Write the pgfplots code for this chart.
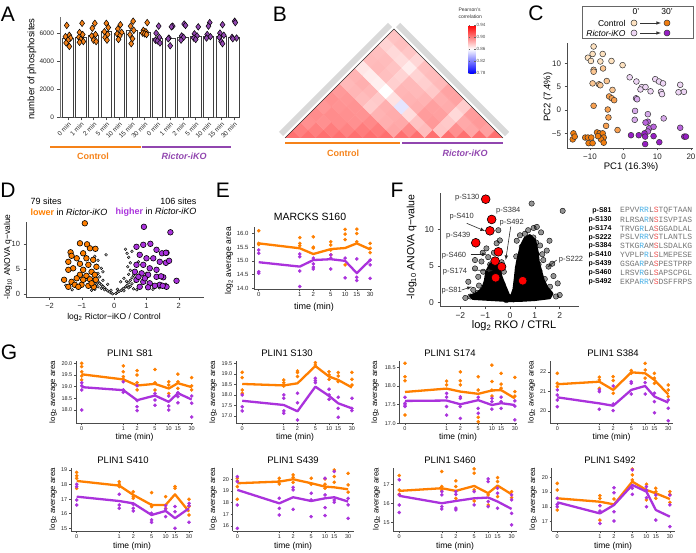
\documentclass[border=0pt]{standalone}
\usepackage{pgfplots}
\pgfplotsset{compat=1.18}
\usepackage{fontspec}
\setmainfont{Liberation Sans}
\newfontfamily\seqfont{Liberation Mono}
\definecolor{ora}{RGB}{255,127,0}
\definecolor{pur}{RGB}{170,50,220}
\definecolor{oraA}{RGB}{245,130,25}
\definecolor{purA}{RGB}{145,70,175}
\definecolor{c0}{RGB}{254,226,192}
\definecolor{c1}{RGB}{252,198,145}
\definecolor{c2}{RGB}{248,160,80}
\definecolor{c3}{RGB}{240,125,15}
\definecolor{r0}{RGB}{238,214,245}
\definecolor{r1}{RGB}{215,170,235}
\definecolor{r2}{RGB}{185,100,220}
\definecolor{r3}{RGB}{150,30,195}
\definecolor{seqb}{RGB}{70,175,230}
\definecolor{seqr}{RGB}{240,80,80}
\newcommand{\fs}[1]{\fontsize{#1}{#1}\selectfont}
\pgfplotsset{
 gg/.style={scale only axis, anchor=south west, axis x line*=bottom, axis y line*=left,
   axis line style={black!70, line width=0.7pt, -}, tick style={black!70, line width=0.6pt},
   tick align=outside, major tick length=2.5pt,
   /pgf/number format/assume math mode=true, /pgf/number format/1000 sep={},
   scaled ticks=false, tick label style={font=\fs{6.5}, text=black!85}, clip=false},
 gs/.style={gg, xtick={0,1,1.33,1.76,2.09,2.31,2.64}, xticklabels={0,1,2,5,10,15,30},
   tick label style={font=\fs{5.5}}, axis line style={line width=0.8pt}, major tick length=2pt,
   xticklabel style={inner sep=0.6pt, yshift=-1pt}, yticklabel style={inner sep=1.5pt}},
 dO/.style={only marks, mark=*, mark size=1.6pt, ora},
 dP/.style={only marks, mark=*, mark size=1.6pt, pur},
 lO/.style={ora, line width=2.3pt, line join=round, no marks},
 lP/.style={pur, line width=2.3pt, line join=round, no marks},
}
\begin{document}
\begin{tikzpicture}
\path[use as bounding box] (0,0) rectangle (696pt,-553pt);
% panel letters
\foreach \l/\x/\y in {A/8/14,B/280/14,C/536/13,D/8/190,E/223/190,F/397/190,G/9/352}
  \node[font=\fs{21}, inner sep=0] at (\x pt,-\y pt) {\l};

% ================= A
\begin{axis}[gg, at={(60pt,-118pt)}, width=180pt, height=101pt,
  xmin=-0.63, xmax=13.47, ymin=-50, ymax=7150,
  ytick={0,2000,4000,6000}, xtick={0,...,13},
  xticklabels={0 min,1 min,2 min,5 min,10 min,15 min,30 min,0 min,1 min,2 min,5 min,10 min,15 min,30 min},
  xticklabel style={rotate=45, anchor=north east, font=\fs{6.5}, inner sep=0.5pt},
  axis line style={black!55, line width=1pt}]
\addplot[ybar, bar width=10.5pt, fill=white, draw=black!75, line width=0.7pt]
 coordinates {(0,5600)(1,5700)(2,5850)(3,6100)(4,6000)(5,6200)(6,6050)
 (7,5650)(8,5600)(9,5700)(10,5750)(11,5750)(12,5750)(13,5700)};
\addplot[only marks, mark=diamond*, mark size=3.3pt, mark options={fill=oraA, draw=black, line width=0.5pt}]
 coordinates {(-0.1,6550)(0.1,5850)(-0.2,5750)(0.2,5650)(0,5500)(-0.15,5300)(0.1,5050)
 (1.1,6700)(0.9,6050)(1.15,5900)(0.85,5700)(1.0,5550)(1.2,5400)(0.9,5350)
 (2.1,6700)(1.9,6350)(2.15,5900)(1.85,5800)(2.0,5500)(2.2,5400)
 (3.0,6700)(3.15,6400)(2.85,6100)(3.1,5900)(2.9,5700)(3.05,5500)
 (4.1,6600)(3.9,6300)(4.2,6050)(3.85,5950)(4.05,5800)(3.95,5550)
 (5.1,6850)(4.9,6500)(5.15,6200)(4.85,5900)(5.05,5600)(4.95,5250)
 (6.2,6750)(5.9,6200)(6.1,6100)(5.85,6000)(6.0,5950)(6.15,5900)};
\addplot[only marks, mark=diamond*, mark size=3.3pt, mark options={fill=purA, draw=black, line width=0.5pt}]
 coordinates {(7.1,6500)(6.9,6000)(7.15,5700)(6.85,5500)(7.0,5450)(7.2,5300)
 (8.2,6500)(8.1,6450)(7.9,5650)(8.0,5100)(7.85,5600)
 (9.1,6650)(9.2,6550)(8.9,5800)(9.05,5700)(8.85,5500)
 (10.2,6450)(9.9,5950)(10.1,5800)(9.85,5650)(10.0,5550)
 (11.1,6750)(11.0,6500)(10.9,5900)(11.15,5750)(10.85,5650)
 (12.1,6600)(11.9,6000)(12.2,5850)(11.85,5700)(12.0,5400)(12.1,5250)
 (13.05,6850)(13.1,6750)(12.85,5700)(13.2,5650)(12.9,5600)};
\end{axis}
\node[rotate=90, font=\fs{9.5}] at (32pt,-69pt) {number of phosphosites};
\draw[oraA, line width=2.5pt] (50pt,-147pt) -- (140.5pt,-147pt);
\draw[purA, line width=2.5pt] (141.5pt,-147pt) -- (231pt,-147pt);
\node[font=\fs{9}\bfseries, text=oraA] at (93pt,-156pt) {Control};
\node[font=\fs{9}\bfseries\itshape, text=purA] at (184pt,-156pt) {Rictor-iKO};

% ================= B heatmap
\draw[black!15, line width=6pt] (281pt,-134pt) -- (390pt,-25pt);
\draw[black!15, line width=6pt] (398pt,-25pt) -- (507pt,-134pt);
\begin{axis}[at={(285pt,-138pt)}, anchor=south west, scale only axis, width=218pt, height=109pt,
  xmin=0, xmax=14, ymin=0, ymax=7, hide axis, clip marker paths=true,
  colormap={bwr}{rgb255=(0,0,255) rgb255=(255,255,255) rgb255=(255,0,0)},
  point meta min=0.78, point meta max=0.94,
  colorbar, colorbar style={at={(parent axis.north west)}, anchor=north west, xshift=175pt, yshift=4pt,
    scale only axis, width=7pt, height=48pt, ytick={0.78,0.82,0.86,0.90,0.94},
    yticklabels={0.78,0.82,0.86,0.90,0.94}, yticklabel style={font=\fs{4.5}, text=black!70, inner sep=1pt},
    axis line style={draw=none}, major tick length=1.5pt, tick style={black!60},
    /pgf/number format/assume math mode=true}]
\addplot[scatter, only marks, mark=square*, mark size=5.45pt, point meta=explicit,
  scatter/use mapped color={draw=mapped color, fill=mapped color}, mark options={rotate=45}]
 table[meta=c] {
x y c
0.5 0 .905
1 .5 .9
1.5 1 .895
2 1.5 .896
2.5 2 .893
3 2.5 .895
3.5 3 .892
4 3.5 .882
4.5 4 .884
5 4.5 .868
5.5 5 .881
6 5.5 .88
6.5 6 .874
7 6.5 .879
1.5 0 .905
2 .5 .9
2.5 1 .895
3 1.5 .896
3.5 2 .894
4 2.5 .893
4.5 3 .883
5 3.5 .885
5.5 4 .866
6 4.5 .882
6.5 5 .881
7 5.5 .872
7.5 6 .88
2.5 0 .905
3 .5 .901
3.5 1 .896
4 1.5 .895
4.5 2 .894
5 2.5 .881
5.5 3 .883
6 3.5 .865
6.5 4 .88
7 4.5 .879
7.5 5 .871
8 5.5 .878
3.5 0 .905
4 .5 .899
4.5 1 .895
5 1.5 .894
5.5 2 .876
6 2.5 .877
6.5 3 .86
7 3.5 .875
7.5 4 .874
8 4.5 .866
8.5 5 .873
4.5 0 .905
5 .5 .901
5.5 1 .897
6 1.5 .884
6.5 2 .885
7 2.5 .869
7.5 3 .883
8 3.5 .882
8.5 4 .874
9 4.5 .88
5.5 0 .905
6 .5 .901
6.5 1 .885
7 1.5 .886
7.5 2 .852
8 2.5 .884
8.5 3 .882
9 3.5 .875
9.5 4 .881
6.5 0 .905
7 .5 .888
7.5 1 .887
8 1.5 .871
8.5 2 .885
9 2.5 .884
9.5 3 .877
10 3.5 .882
7.5 0 .905
8 .5 .897
8.5 1 .879
9 1.5 .891
9.5 2 .89
10 2.5 .885
10.5 3 .889
8.5 0 .905
9 .5 .881
9.5 1 .892
10 1.5 .89
10.5 2 .886
11 2.5 .889
9.5 0 .905
10 .5 .878
10.5 1 .877
11 1.5 .872
11.5 2 .876
10.5 0 .905
11 .5 .895
11.5 1 .887
12 1.5 .891
11.5 0 .905
12 .5 .888
12.5 1 .892
12.5 0 .905
13 .5 .89
13.5 0 .905
};
\end{axis}
\draw[black!80, line width=0.6pt] (285pt,-138pt) -- (394pt,-29pt) -- (503pt,-138pt);
\node[font=\fs{5}, anchor=west, text=black!80] at (455pt,-10pt) {Pearson's};
\node[font=\fs{5}, anchor=west, text=black!80] at (455pt,-17pt) {correlation};
\draw[oraA, line width=2.5pt] (285pt,-143pt) -- (400pt,-143pt);
\draw[purA, line width=2.5pt] (402pt,-143pt) -- (503pt,-143pt);
\node[font=\fs{9}\bfseries, text=oraA] at (343pt,-153pt) {Control};
\node[font=\fs{9}\bfseries\itshape, text=purA] at (465pt,-153pt) {Rictor-iKO};

% ================= C PCA
\begin{axis}[gg, at={(567pt,-148pt)}, width=126pt, height=105pt,
  xmin=-16.8, xmax=20.6, ymin=-8.14, ymax=14.35,
  xtick={-10,0,10,20}, xticklabels={−10,0,10,20}, ytick={-5,0,5,10}, yticklabels={−5,0,5,10},
  tick label style={font=\fs{8}}]
\addplot[only marks, mark=*, mark size=2.9pt, mark options={fill=c0, draw=black!80, line width=0.5pt}]
 coordinates {(-8.9,13.6)(-10.6,11.2)(-9.2,12)(-6.2,12)(-6.9,10.4)(-3.6,10.5)(-0.3,9.6)(-9.7,10.5)};
\addplot[only marks, mark=*, mark size=2.9pt, mark options={fill=c1, draw=black!80, line width=0.5pt}]
 coordinates {(-6.1,8.9)(-8.9,8.6)(-8.9,8.2)(-9.2,5.7)(-7.3,5.5)(-5,6.2)(-6.9,5.3)(-3.3,4.3)};
\addplot[only marks, mark=*, mark size=2.9pt, mark options={fill=c2, draw=black!80, line width=0.5pt}]
 coordinates {(-4.3,2.9)(-3.5,2.5)(-2.8,2.1)(-8.9,0.9)(-4.7,0.1)(-4.5,-1.6)(-5.2,-3.4)(-1.8,-4.3)};
\addplot[only marks, mark=*, mark size=2.9pt, mark options={fill=c3, draw=black!80, line width=0.5pt}]
 coordinates {(-14.9,-5)(-15.1,-6.3)(-14.5,-5.7)(-11.4,-5.9)(-10.6,-5.9)(-9.6,-5.9)(-10.4,-7.1)(-9.2,-7.1)
 (-7.9,-4.8)(-7.1,-5)(-6.2,-5)(-5.9,-5.9)(-6.7,-6.3)(-5.9,-7)(-7.6,-5.6)};
\addplot[only marks, mark=*, mark size=2.9pt, mark options={fill=r0, draw=black!80, line width=0.5pt}]
 coordinates {(1.8,7)(3.8,6.1)(5.4,4.9)(5.0,4.4)(6.5,4.9)(8.0,4)(9.4,6.6)(10.5,6.1)(11.7,5.7)(11.1,3.9)
 (11.4,3.4)(16.8,5.4)(16.3,3.8)(17.9,3.9)};
\addplot[only marks, mark=*, mark size=2.9pt, mark options={fill=r1, draw=black!80, line width=0.5pt}]
 coordinates {(3.7,2.5)(4,2.3)(3.4,-0.2)(7.2,-0.9)(3.3,-2.1)(11.9,-1.8)};
\addplot[only marks, mark=*, mark size=2.9pt, mark options={fill=r2, draw=black!80, line width=0.5pt}]
 coordinates {(7.2,-2.5)(6.5,-2.7)(7.6,-3.9)(8.9,-3.6)(16.8,-3.8)(7.2,-4.6)};
\addplot[only marks, mark=*, mark size=2.9pt, mark options={fill=r3, draw=black!80, line width=0.5pt}]
 coordinates {(2.2,-5.4)(4.5,-5.4)(6.2,-5)(6.4,-5.7)(8.9,-5.6)(6.4,-7.3)(10.6,-6.9)(18,-5.7)(18.5,-5.7)};
\end{axis}
\node[font=\fs{9.5}] at (631pt,-167pt) {PC1 (16.3\%)};
\node[font=\fs{9.5}, rotate=90] at (548pt,-97pt) {PC2 (7.4\%)};
% legend of C
\begin{axis}[at={(582pt,-38pt)}, anchor=south west, scale only axis, width=111pt, height=32pt,
  xmin=0, xmax=111, ymin=0, ymax=32, hide axis, clip=false]
\draw[black!60, line width=0.6pt] (axis cs:0,0) rectangle (axis cs:111,32);
\addplot[only marks, mark=*, mark size=3pt, mark options={fill=c0, draw=black!80, line width=0.5pt}] coordinates {(52,15)};
\addplot[only marks, mark=*, mark size=3pt, mark options={fill=c3, draw=black!80, line width=0.5pt}] coordinates {(85,15)};
\addplot[only marks, mark=*, mark size=3pt, mark options={fill=r0, draw=black!80, line width=0.5pt}] coordinates {(52,5)};
\addplot[only marks, mark=*, mark size=3pt, mark options={fill=r3, draw=black!80, line width=0.5pt}] coordinates {(85,5)};
\draw[-latex, black!80, line width=0.6pt] (axis cs:58,15) -- (axis cs:79,15);
\draw[-latex, black!80, line width=0.6pt] (axis cs:58,5) -- (axis cs:79,5);
\node[font=\fs{8.5}] at (axis cs:54,26) {0'};
\node[font=\fs{8.5}] at (axis cs:85,26) {30'};
\node[font=\fs{8.5}, anchor=east] at (axis cs:47,15) {Control};
\node[font=\fs{8.5}\itshape, anchor=east] at (axis cs:47,5) {Rictor-iKO};
\end{axis}

% ================= D volcano
\begin{axis}[gg, at={(26pt,-297pt)}, width=178pt, height=75pt,
  xmin=-2.73, xmax=2.78, ymin=-0.54, ymax=14.46, xtick={-2,-1,0,1,2}, xticklabels={−2,−1,0,1,2},
  ytick={0,5,10}, tick label style={font=\fs{7.5}}]
\addplot[only marks, mark=*, mark size=1.4pt, mark options={fill=black!25, draw=none}]
 coordinates {(-0.05,0.1)(0.05,0.15)(-0.1,0.3)(0.1,0.4)(-0.15,0.5)(0.15,0.6)(-0.2,0.7)(0.22,0.8)(-0.25,1.0)
 (0.27,1.1)(-0.3,1.3)(0.3,1.2)(-0.35,1.6)(0.36,1.5)(-0.4,1.9)(0.4,1.8)(-0.45,2.2)(0.45,2.3)(-0.5,2.6)
 (0.5,2.8)(-0.55,3.1)(0.55,3.3)(-0.3,0.9)(0.3,0.7)(-0.4,1.2)(0.45,1.3)(-0.5,1.5)(0.5,1.6)(-0.55,2.0)
 (0.55,2.1)(-0.45,3.5)(0.45,4.0)(-0.5,4.2)(0.5,4.8)(-0.4,5.2)(0.42,5.5)(-0.55,5.8)(0.5,6.3)(-0.5,6.8)
 (0.45,7.4)(0.4,8.2)(-0.6,7.6)(0.35,9.0)(-0.25,7.9)(0.55,8.6)(-0.35,4.5)(0.3,3.2)(-0.2,2.0)(0.2,2.5)
 (-0.6,1.0)(0.6,1.1)(-0.7,0.8)(0.7,0.9)(-0.8,1.6)(0.8,1.4)(-0.9,2.8)(0.9,3.0)(-1.1,1.2)(1.2,1.0)
 (-1.3,0.9)(1.4,1.3)(-1.0,3.8)(1.0,4.2)(-0.75,6.0)(0.75,6.5)(-1.5,1.8)(1.6,2.0)(-0.65,2.4)(0.65,2.6)
 (-0.1,0.8)(0.1,1.0)(-0.6,3.0)(0.6,3.8)(-0.35,2.8)(0.38,2.6)};
\addplot[only marks, mark=*, mark size=2.8pt, mark options={fill=ora, draw=black, line width=0.6pt}]
 coordinates {(-0.91,14.2)(-1.06,10.2)(-0.84,10)(-0.75,9.2)(-0.58,9.1)(-0.96,8.2)(-1.35,8.4)(-1.32,7.7)
 (-1.16,7.2)(-0.86,7.2)(-0.65,6.9)(-1.42,6.5)(-1.06,6.1)(-0.8,5.9)(-0.55,5.5)(-1.27,5.2)(-0.96,4.9)
 (-0.7,4.5)(-1.42,4.9)(-1.06,3.9)(-0.86,3.7)(-0.6,3.9)(-1.55,2.9)(-1.32,2.5)(-1.16,3.2)(-0.96,2.9)
 (-0.75,3)(-0.57,2.9)(-1.42,1.5)(-1.22,1.9)(-1.01,1.9)(-0.8,1.7)(-0.63,1.5)(-1.11,1.5)(-0.7,2.2)};
\addplot[only marks, mark=*, mark size=2.8pt, mark options={fill=pur, draw=black, line width=0.6pt}]
 coordinates {(0.92,13.5)(0.69,9.5)(0.9,9.9)(1.12,10.1)(1.31,8.9)(1.48,8.2)(1.62,8.3)(0.79,7.9)(1,7.2)
 (1.21,7.2)(1.41,6.5)(0.69,5.9)(0.9,5.9)(1.1,5.2)(1.31,4.9)(0.64,4.5)(0.85,4.2)(1.05,3.9)(1.31,3.5)
 (1.52,3.4)(0.69,2.9)(0.9,2.5)(1.1,2.2)(1.41,1.9)(1.62,1.5)(0.79,1.5)(1.05,1.4)(1.26,1.7)(1.74,12.4)
 (1.6,8.3)(1.6,6.3)(1.7,6.7)(1.45,3.6)(1.5,1.7)(1.93,2.7)(0.75,3.5)(0.95,3.2)};
\end{axis}
\node[font=\fs{9}, anchor=west] at (27pt,-201pt) {79 sites};
\node[font=\fs{9}, anchor=west] at (27pt,-212pt) {\textcolor{ora}{\bfseries lower} in \textit{Rictor-iKO}};
\node[font=\fs{9}, anchor=east] at (200pt,-201pt) {106 sites};
\node[font=\fs{9}, anchor=east] at (200pt,-212pt) {\textcolor{pur}{\bfseries higher} in \textit{Rictor-iKO}};
\node[font=\fs{8.5}, rotate=90] at (8pt,-257pt) {-log\textsubscript{10} ANOVA q−value};
\node[font=\fs{8.5}] at (114pt,-317pt) {log\textsubscript{2} Rictor−iKO / Control};

% ================= E
\begin{axis}[gg, at={(254pt,-289pt)}, width=118pt, height=62.3pt,
  xmin=-0.115, xmax=2.76, ymin=13.97, ymax=16.25,
  xtick={0,1,1.33,1.756,2.105,2.39,2.715}, xticklabels={0,1,2,5,10,15,30},
  ytick={14,14.5,15,15.5,16}, yticklabels={14.0,14.5,15.0,15.5,16.0},
  tick label style={font=\fs{6}}, xticklabel style={inner sep=0.6pt, yshift=-1pt},
  axis line style={line width=0.8pt}, major tick length=2pt]
\addplot[dO] coordinates {(0,16.1)(0,15.64)(0,15.6)(1,15.85)(1,15.64)(1,15.55)(1.33,15.88)(1.33,15.5)(1.33,15.47)
 (1.756,15.7)(1.756,15.58)(1.756,15.4)(1.756,15.22)(2.105,16.15)(2.105,15.98)(2.105,15.78)(2.105,14.85)
 (2.39,16.16)(2.39,16.0)(2.39,15.7)(2.715,15.64)(2.715,15.46)(2.715,15.3)};
\addplot[dP] coordinates {(0,15.4)(0,15.28)(0,14.6)(0,14.55)(1,15.25)(1,15.15)(1,14.63)(1,14.06)(1.33,15.1)
 (1.33,14.89)(1.33,14.77)(1.33,14.7)(1.756,15.22)(1.756,15.1)(1.756,14.7)(2.105,15.1)(2.105,14.38)
 (2.39,15.07)(2.39,14.4)(2.39,14.28)(2.715,15.03)(2.715,14.85)(2.715,14.36)};
\addplot[lO] coordinates {(0,15.64)(1,15.46)(1.33,15.25)(1.756,15.43)(2.105,15.47)(2.39,15.64)(2.715,15.42)};
\addplot[lP] coordinates {(0,14.95)(1,14.79)(1.33,15.03)(1.756,15.06)(2.105,15.0)(2.39,14.55)(2.715,15.03)};
\end{axis}
\node[font=\fs{10.5}] at (310pt,-217pt) {MARCKS S160};
\node[font=\fs{8.5}, rotate=90] at (229pt,-261pt) {log\textsubscript{2} average area};
\node[font=\fs{9}] at (314pt,-307pt) {time (min)};

% ================= F
\begin{axis}[gg, at={(440pt,-306.7pt)}, width=139.3pt, height=113.7pt,
  xmin=-2.82, xmax=2.79, ymin=-0.6, ymax=15.0, xtick={-2,-1,0,1,2}, xticklabels={−2,−1,0,1,2},
  ytick={0,5,10}, tick label style={font=\fs{8.5}}, axis line style={line width=0.9pt}]
\addplot[fill=black, draw=black, line width=2.5pt, line join=round]
 coordinates {(0,0.2)(-0.5,0.3)(-1.0,0.4)(-1.5,0.5)(-1.6,0.9)(-1.3,1.3)(-1.1,2.0)(-1.0,3.0)(-0.95,4.2)
 (-0.8,5.2)(-0.6,5.6)(-0.45,4.8)(-0.35,3.5)(-0.2,2.2)(-0.05,1.0)(0.05,0.8)(0.15,1.8)(0.2,3.2)(0.25,4.8)
 (0.35,6.5)(0.45,7.8)(0.6,8.8)(0.8,9.2)(1.0,8.5)(1.1,7.0)(1.15,5.5)(1.25,4.2)(1.35,3.0)(1.5,2.0)
 (1.7,1.2)(1.6,0.6)(1.0,0.35)(0.5,0.25)} -- cycle;
\addplot[only marks, mark=*, mark size=2.7pt, mark options={fill=black, draw=none, fill opacity=0.42}]
 coordinates {(0.87,13.55)(2.12,12.55)(1.08,10.35)(1.59,8.45)(1.92,2.6)(-1.68,2.82)(-1.41,5.8)(-1.41,4.65)
 (-1.48,1.7)(-1.28,3.5)(-1.08,4.2)(-0.88,6.2)(-0.41,8.5)(0.47,7.6)(0.6,9.4)(0.73,9.9)(0.27,8.45)(1.21,7.8)
 (1.48,7.1)(1.34,5.8)(1.55,4.9)(1.75,3.6)(1.19,4.3)(1.61,2.14)(0.94,8.9)(1.08,6.6)(-0.67,4.1)(-0.54,8.1)
 (-0.34,5.5)(-0.47,9.9)(-1.2,1.2)(-1.0,2.0)(-0.9,3.0)(-0.75,2.5)(-0.6,1.5)(-0.5,3.5)(-0.8,5.2)(-1.1,6.8)
 (-0.3,2.5)(-0.2,1.2)(0.2,1.5)(0.3,3.5)(0.35,5.5)(0.45,6.5)(0.55,4.5)(0.7,3)(0.8,5.5)(0.9,7.2)(1.0,3.8)
 (1.1,2.5)(1.3,1.8)(1.4,3.2)(0.65,8.2)(0.4,9.2)(1.25,9.6)(0.5,2)(0.9,1.5)(-0.4,0.6)(0.4,0.7)(-0.15,0.3)
 (0.15,0.4)(1.5,1.2)(-1.6,0.8)(2.0,1.0)(-0.65,6.8)(-1.25,2.3)(1.7,5.3)(1.05,8.2)(0.25,6.3)(-0.25,4.2)
 (-0.95,1.0)(-0.7,3.5)(0.75,1.2)(1.15,5.2)(0.6,6.8)(-1.3,1.3)(1.2,2.0)(-1.8,0.6)(1.85,0.8)(-1.15,5.6)
 (1.3,6.6)(0.95,10.2)(-0.95,7.4)};
\addplot[only marks, mark=*, mark size=4.4pt, mark options={fill=red, draw=black, line width=0.6pt}]
 coordinates {(-0.98,14.15)(-0.74,11.37)(-0.81,9.81)(-1.38,8.17)(-0.47,6.93)(-0.6,5.66)(-0.34,4.88)(-0.58,3.37)(0.51,2.96)};
\end{axis}
\node[font=\fs{10.5}, rotate=90] at (411.7pt,-247pt) {-log\textsubscript{10} ANOVA q−value};
\node[font=\fs{11}] at (514pt,-326pt) {log\textsubscript{2} RKO / CTRL};
\begin{scope}[font=\fs{7.5}, text=black!80]
\node at (467.3pt,-197.3pt) {p-S130};
\node at (508.3pt,-211pt) {p-S384};
\node at (461.7pt,-216.7pt) {p-S410};
\node at (511.7pt,-222.7pt) {p-S492};
\node at (458.3pt,-235.7pt) {p-S439};
\node at (454pt,-255.7pt) {p-S460};
\node at (455pt,-271.7pt) {p-S174};
\node at (451.7pt,-291pt) {p-S81};
\node at (571pt,-259.3pt) {p-S222};
\end{scope}
\begin{scope}[-latex, black!85, line width=0.6pt]
\draw (466.7pt,-223.3pt) -- (485pt,-231pt);
\draw (510.7pt,-226.7pt) -- (505.7pt,-260pt);
\draw (470.7pt,-254.3pt) -- (486.7pt,-254.3pt);
\draw (472.7pt,-270pt) -- (492.7pt,-270.7pt);
\draw (461.7pt,-290pt) -- (471.7pt,-286.7pt);
\draw (556.7pt,-260pt) -- (547.3pt,-267.3pt);
\end{scope}
\begin{scope}[text=black!55]
\foreach \lab/\seq/\k in {p-S81/{EPVV\textcolor{seqb}{RR}L\textcolor{seqr}{S}TQFTAAN}/0,
  p-S130/{RLRSA\textcolor{seqb}{R}N\textcolor{seqr}{S}ISVPIAS}/1,
  p-S174/{TRVG\textcolor{seqb}{R}LA\textcolor{seqr}{S}GGADLAL}/2,
  p-S222/{PSLV\textcolor{seqb}{RR}V\textcolor{seqr}{S}TLANTLS}/3,
  p-S384/{STKG\textcolor{seqb}{R}AM\textcolor{seqr}{S}LSDALKG}/4,
  p-S410/{YVPLP\textcolor{seqb}{R}L\textcolor{seqr}{S}LMEPESE}/5,
  p-S439/{GSGA\textcolor{seqb}{R}PA\textcolor{seqr}{S}PESTPRP}/6,
  p-S460/{LRSV\textcolor{seqb}{R}GL\textcolor{seqr}{S}APSCPGL}/7,
  p-S492/{EKPA\textcolor{seqb}{RR}V\textcolor{seqr}{S}DSFFRPS}/8}{
  \node[anchor=east, font=\fs{7}\bfseries, text=black] at (615pt,{-210.7pt-\k*8.87pt}) {\lab};
  \node[anchor=west, font=\seqfont\fs{8}, inner sep=1pt] at (619pt,{-210.7pt-\k*8.87pt}) {\seq};
}
\end{scope}

% ================= G row 1
\begin{axis}[gs, at={(76pt,-423.3pt)}, width=117.3pt, height=62.3pt, xmin=-0.137, xmax=2.68,
  ymin=17.43, ymax=20.1, ytick={18,18.5,19,19.5,20}, yticklabels={18.0,18.5,19.0,19.5,20.0}]
\addplot[dO] coordinates {(0,20.0)(0,19.86)(0,19.64)(0,19.46)(0,19.29)(1,19.89)(1,19.64)(1,19.43)(1,19.31)
 (1.33,19.69)(1.33,19.5)(1.33,19.17)(1.33,18.86)(1.76,19.74)(1.76,19.17)(1.76,18.86)(2.09,19.21)(2.09,19.07)
 (2.09,18.71)(2.31,19.54)(2.31,19.21)(2.31,18.93)(2.64,19.39)(2.64,19.03)(2.64,18.86)};
\addplot[dP] coordinates {(0,19.17)(0,19.04)(0,18.86)(0,18.0)(1,19.21)(1,18.86)(1,18.76)(1.33,19.04)(1.33,18.4)
 (1.33,18.14)(1.33,17.97)(1.76,18.71)(1.76,18.43)(1.76,18.2)(2.09,18.6)(2.09,18.17)(2.09,18.0)(2.31,18.74)
 (2.31,18.57)(2.31,18.31)(2.64,18.6)(2.64,18.29)(2.64,17.7)};
\addplot[lO] coordinates {(0,19.53)(1,19.31)(1.33,19.05)(1.76,19.12)(2.09,18.92)(2.31,19.15)(2.64,18.98)};
\addplot[lP] coordinates {(0,18.98)(1,18.85)(1.33,18.42)(1.76,18.62)(2.09,18.35)(2.31,18.72)(2.64,18.45)};
\end{axis}
\begin{axis}[gs, at={(236pt,-423.3pt)}, width=118pt, height=62.3pt, xmin=-0.15, xmax=2.69,
  ymin=16.65, ymax=19.61, ytick={17,17.5,18,18.5,19,19.5}, yticklabels={17.0,17.5,18.0,18.5,19.0,19.5}]
\addplot[dO] coordinates {(0,19.07)(0,18.82)(0,18.23)(0,18.08)(1,18.71)(1,18.58)(1,18.42)(1.33,19.14)(1.33,19.06)
 (1.33,18.87)(1.76,19.53)(1.76,19.42)(2.09,19.1)(2.09,18.95)(2.09,18.74)(2.31,19.06)(2.31,18.9)(2.31,18.63)
 (2.64,19.07)(2.64,18.74)(2.64,18.47)};
\addplot[dP] coordinates {(0,18.0)(0,17.44)(0,17.24)(1,18.0)(1,17.84)(1,17.24)(1,17.13)(1.33,18.08)(1.33,17.63)
 (1.33,16.81)(1.76,18.79)(1.76,18.68)(1.76,18.58)(2.09,18.27)(2.09,18.0)(2.09,17.79)(2.31,17.89)(2.31,17.36)
 (2.31,16.94)(2.64,17.84)(2.64,17.36)(2.64,17.25)};
\addplot[lO] coordinates {(0,18.52)(1,18.45)(1.33,18.55)(1.76,19.37)(2.09,18.87)(2.31,18.71)(2.64,18.35)};
\addplot[lP] coordinates {(0,17.72)(1,17.52)(1.33,17.22)(1.76,18.39)(2.09,17.95)(2.31,17.6)(2.64,17.36)};
\end{axis}
\begin{axis}[gs, at={(399.3pt,-423.3pt)}, width=117.4pt, height=62.3pt, xmin=-0.137, xmax=2.685,
  ymin=17.0, ymax=18.67, ytick={17,17.5,18,18.5}, yticklabels={17.0,17.5,18.0,18.5}]
\addplot[dO] coordinates {(0,18.61)(0,18.25)(0,18.14)(0,17.22)(1,18.13)(1,18.03)(1.33,18.38)(1.33,18.14)(1.33,18.03)
 (1.76,18.25)(1.76,17.89)(1.76,17.16)(1.76,17.04)(2.09,18.56)(2.09,18.12)(2.09,17.89)(2.09,17.73)(2.31,18.34)
 (2.31,18.05)(2.31,17.94)(2.64,18.23)(2.64,17.85)(2.64,17.73)};
\addplot[dP] coordinates {(0,17.7)(0,17.54)(0,17.49)(0,17.45)(1,17.8)(1,17.7)(1,17.45)(1,17.22)(1.33,17.71)(1.33,17.67)
 (1.33,17.45)(1.33,17.13)(1.76,17.7)(1.76,17.4)(1.76,17.27)(2.09,17.67)(2.09,17.58)(2.09,17.38)(2.31,17.7)
 (2.31,17.58)(2.31,17.4)(2.64,17.6)(2.64,17.46)(2.64,17.09)};
\addplot[lO] coordinates {(0,17.84)(1,17.93)(1.33,17.85)(1.76,17.79)(2.09,17.88)(2.31,17.89)(2.64,17.67)};
\addplot[lP] coordinates {(0,17.6)(1,17.61)(1.33,17.51)(1.76,17.62)(2.09,17.49)(2.31,17.54)(2.64,17.49)};
\end{axis}
\begin{axis}[gs, at={(550pt,-423.3pt)}, width=123.3pt, height=62.3pt, xmin=-0.174, xmax=2.76,
  ymin=19.37, ymax=22.56, ytick={20,21,22}]
\addplot[dO] coordinates {(0,21.93)(0,21.42)(0,21.25)(1,21.73)(1,21.59)(1,21.16)(1.33,21.76)(1.33,21.56)(1.33,20.91)
 (1.76,22.07)(1.76,21.93)(2.09,22.44)(2.09,22.1)(2.09,21.68)(2.31,21.93)(2.31,21.68)(2.31,21.42)(2.64,21.33)
 (2.64,21.08)(2.64,20.74)};
\addplot[dP] coordinates {(0,21.08)(0,20.82)(0,20.56)(0,20.22)(1,21.08)(1,20.99)(1,20.09)(1.33,21.28)(1.33,20.36)
 (1.33,20.02)(1.76,21.5)(1.76,21.42)(1.76,20.87)(2.09,21.45)(2.09,20.87)(2.31,20.91)(2.31,20.48)(2.31,19.91)
 (2.64,20.56)(2.64,20.14)(2.64,19.5)};
\addplot[lO] coordinates {(0,21.37)(1,21.5)(1.33,21.08)(1.76,21.98)(2.09,21.93)(2.31,21.59)(2.64,20.85)};
\addplot[lP] coordinates {(0,20.7)(1,20.39)(1.33,20.27)(1.76,21.08)(2.09,21.28)(2.31,20.74)(2.64,20.43)};
\end{axis}
% ================= G row 2
\begin{axis}[gs, at={(71pt,-531pt)}, width=122.3pt, height=63.3pt, xmin=-0.134, xmax=2.74,
  ymin=14.81, ymax=19.16, ytick={15,16,17,18,19}]
\addplot[dO] coordinates {(0,18.84)(0,18.61)(0,18.43)(0,17.74)(1,18.2)(1,18.02)(1,17.86)(1.33,17.51)(1.33,17.17)
 (1.33,17.06)(1.76,17.45)(1.76,16.6)(1.76,16.49)(2.09,17.17)(2.09,16.37)(2.31,17.86)(2.31,17.74)(2.64,16.99)
 (2.64,16.49)(2.64,15.91)};
\addplot[dP] coordinates {(0,18.02)(0,17.86)(0,16.94)(0,16.6)(1,17.33)(1,16.6)(1,16.37)(1.33,16.65)(1.33,16.37)
 (1.33,16.19)(1.76,16.03)(1.76,15.57)(1.76,15.41)(2.09,16.55)(2.09,16.33)(2.09,15.8)(2.31,16.49)(2.31,16.14)
 (2.31,15.0)(2.64,16.71)(2.64,16.55)(2.64,15.41)};
\addplot[lO] coordinates {(0,18.25)(1,17.93)(1.33,17.29)(1.76,16.6)(2.09,16.6)(2.31,17.33)(2.64,16.14)};
\addplot[lP] coordinates {(0,17.17)(1,16.87)(1.33,16.71)(1.76,15.91)(2.09,16.19)(2.31,15.69)(2.64,16.37)};
\end{axis}
\begin{axis}[gs, at={(232.7pt,-531pt)}, width=121.3pt, height=63.3pt, xmin=-0.11, xmax=2.78,
  ymin=15.57, ymax=20.99, ytick={16,17,18,19,20}]
\addplot[dO] coordinates {(0,20.09)(0,19.86)(0,19.37)(0,18.29)(1,20.09)(1,19.86)(1,19.6)(1.33,20.37)(1.33,20.17)
 (1.33,19.74)(1.76,20.09)(1.76,19.57)(2.09,20.03)(2.09,19.57)(2.09,19.23)(2.31,20.8)(2.31,20.23)(2.31,19.74)
 (2.64,20.51)(2.64,19.51)(2.64,18.89)};
\addplot[dP] coordinates {(0,20.23)(0,19.8)(0,17.8)(0,15.8)(1,18.37)(1,17.51)(1,16.94)(1.33,19.31)(1.33,19.09)
 (1.33,17.43)(1.76,18.8)(1.76,18.23)(1.76,16.8)(2.09,20.09)(2.09,18.66)(2.09,17.57)(2.09,16.89)(2.31,20.66)
 (2.31,18.23)(2.31,18.03)(2.64,18.37)(2.64,17.8)(2.64,16.66)};
\addplot[lO] coordinates {(0,19.66)(1,19.8)(1.33,20.0)(1.76,19.66)(2.09,19.37)(2.31,19.31)(2.64,19.14)};
\addplot[lP] coordinates {(0,19.09)(1,17.94)(1.33,18.46)(1.76,18.14)(2.09,18.37)(2.31,18.46)(2.64,18.09)};
\end{axis}
\begin{axis}[gs, at={(393.3pt,-531pt)}, width=123.4pt, height=63.3pt, xmin=-0.14, xmax=2.76,
  ymin=14.54, ymax=17.87, ytick={15,16,17}]
\addplot[dO] coordinates {(0,17.46)(0,16.7)(0,16.47)(1,17.67)(1,16.88)(1,16.7)(1.33,17.18)(1.33,16.88)(1.33,16.26)
 (1.76,17.81)(1.76,17.58)(1.76,16.7)(1.76,16.12)(2.09,16.44)(2.09,15.91)(2.31,17.35)(2.31,17.14)(2.31,16.35)
 (2.64,16.61)(2.64,16.3)};
\addplot[dP] coordinates {(0,17.23)(0,16.44)(0,15.91)(0,15.51)(1,16.61)(1,16.44)(1,15.82)(1,15.7)(1.33,16.61)
 (1.33,16.47)(1.33,15.74)(1.33,15.65)(1.76,16.61)(1.76,15.91)(2.09,17.28)(2.09,17.14)(2.09,16.09)(2.09,15.82)
 (2.31,16.79)(2.31,16.53)(2.31,15.74)(2.64,16.44)(2.64,16.18)(2.64,15.47)(2.64,14.86)};
\addplot[lO] coordinates {(0,16.65)(1,16.79)(1.33,16.65)(1.76,16.91)(2.09,16.53)(2.31,16.93)(2.64,16.47)};
\addplot[lP] coordinates {(0,16.39)(1,16.0)(1.33,16.12)(1.76,16.26)(2.09,16.3)(2.31,16.09)(2.64,15.7)};
\end{axis}
\begin{axis}[gs, at={(551.7pt,-531pt)}, width=123.3pt, height=63.3pt, xmin=-0.13, xmax=2.76,
  ymin=16.37, ymax=20.65, ytick={17,18,19,20}]
\addplot[dO] coordinates {(0,19.59)(0,19.14)(0,17.79)(1,18.76)(1,18.58)(1,17.11)(1.33,18.53)(1.76,20.56)(1.76,20.16)
 (1.76,19.82)(2.09,19.53)(2.09,18.47)(2.31,19.26)(2.31,19.03)(2.31,18.58)(2.64,19.03)(2.64,18.85)(2.64,18.31)};
\addplot[dP] coordinates {(0,18.58)(0,18.17)(0,18.01)(1,18.08)(1,17.72)(1,16.88)(1.33,19.3)(1.33,18.96)(1.33,17.67)
 (1.33,17.04)(1.76,20.5)(1.76,19.26)(1.76,18.85)(2.09,19.37)(2.09,19.14)(2.09,18.62)(2.09,18.01)(2.31,18.8)
 (2.31,17.11)(2.64,18.8)(2.64,18.13)(2.64,16.66)};
\addplot[lO] coordinates {(0,18.58)(1,18.35)(1.33,18.17)(1.76,19.71)(2.09,19.14)(2.31,18.92)(2.64,18.53)};
\addplot[lP] coordinates {(0,18.31)(1,17.56)(1.33,18.13)(1.76,19.48)(2.09,19.03)(2.31,17.79)(2.64,17.34)};
\end{axis}
% G labels
\foreach \t/\x/\y in {PLIN1 S81/130/353, PLIN1 S130/287/353, PLIN1 S174/450/353, PLIN1 S384/613/353,
  PLIN1 S410/123/460, PLIN1 S439/293/460, PLIN1 S460/450/460, PLIN1 S492/610/460}
  \node[font=\fs{9.5}] at (\x pt,-\y pt) {\t};
\foreach \x/\y in {134.6/437.7, 295/437.7, 458/437.7, 611.6/437.7, 132/546.7, 293/546.7, 455/546.7, 613/546.7}
  \node[font=\fs{8.5}] at (\x pt,-\y pt) {time (min)};
\foreach \x/\y in {53/392, 213/392, 375/392, 531.7/392, 53/499, 213/499, 376.7/499, 533/499}
  \node[font=\fs{7.8}, rotate=90] at (\x pt,-\y pt) {log\textsubscript{2} average area};
\end{tikzpicture}
\end{document}
